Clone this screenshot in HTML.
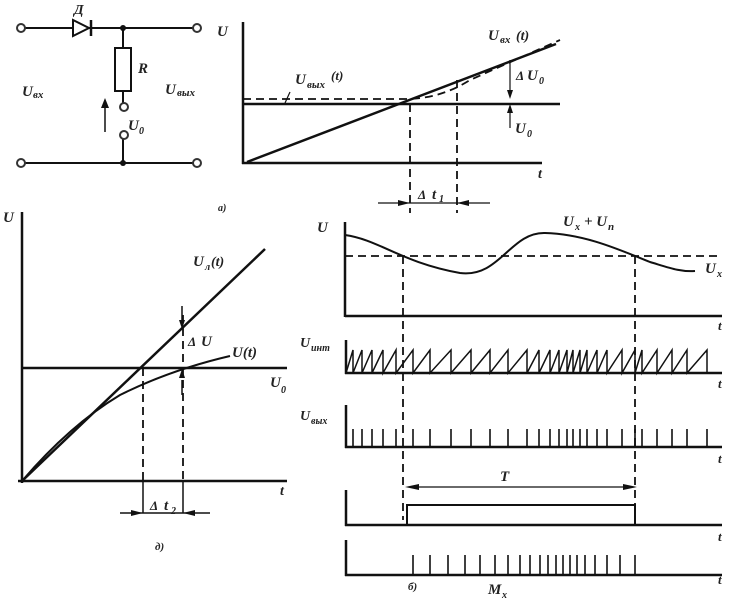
<!DOCTYPE html>
<html><head><meta charset="utf-8"><style>
html,body{margin:0;padding:0;background:#fff;}
svg{display:block;}
text{font-family:"Liberation Serif",serif;font-style:italic;font-weight:bold;fill:#222;}
</style></head><body>
<svg width="737" height="600" viewBox="0 0 737 600" xmlns="http://www.w3.org/2000/svg">
<g stroke="#111" fill="none" stroke-width="2">
<!-- circuit -->
<line x1="24" y1="28" x2="193" y2="28"/>
<line x1="24" y1="163" x2="193" y2="163"/>
<polygon points="73,20 73,36 89,28" fill="#fff"/>
<line x1="91" y1="20" x2="91" y2="36" stroke-width="2.5"/>
<line x1="123" y1="28" x2="123" y2="48"/>
<rect x="115" y="48" width="16" height="43" fill="#fff"/>
<line x1="123" y1="91" x2="123" y2="103"/>
<line x1="123" y1="139" x2="123" y2="163"/>
<line x1="105" y1="132" x2="105" y2="102" stroke-width="1.5"/>
</g>
<polygon points="105,98 101,108 109,108" fill="#111"/>
<g stroke="#333" fill="#fff" stroke-width="2">
<circle cx="21" cy="28" r="4"/><circle cx="197" cy="28" r="4"/>
<circle cx="21" cy="163" r="4"/><circle cx="197" cy="163" r="4"/>
<circle cx="124" cy="107" r="4"/><circle cx="124" cy="135" r="4"/>
</g>
<circle cx="123" cy="28" r="3" fill="#111"/><circle cx="123" cy="163" r="3" fill="#111"/>
<text x="74" y="14" font-size="14">Д</text>
<text x="138" y="73" font-size="15">R</text>
<text x="22" y="96" font-size="15">U</text><text x="33" y="98" font-size="11">вх</text>
<text x="165" y="94" font-size="15">U</text><text x="177" y="96" font-size="11">вых</text>
<text x="128" y="130" font-size="15">U</text><text x="139" y="134" font-size="10">0</text>
<text x="217" y="36" font-size="15" font-weight="normal">U</text>

<!-- graph a -->
<g stroke="#111" fill="none" stroke-width="2.5">
<line x1="243" y1="22" x2="243" y2="164"/>
<line x1="242" y1="163" x2="542" y2="163"/>
<line x1="243" y1="104" x2="560" y2="104"/>
<line x1="247" y1="162" x2="556" y2="44"/>
</g>
<g stroke="#111" fill="none" stroke-width="1.8" stroke-dasharray="8,5">
<path d="M243,99 L405,99 Q440,99 470,80 L560,40"/>
<line x1="410" y1="104" x2="410" y2="213"/>
<line x1="457" y1="80" x2="457" y2="213"/>
</g>
<g stroke="#111" stroke-width="1.2">
<line x1="378" y1="203" x2="490" y2="203"/>
<line x1="285" y1="103" x2="290" y2="92"/>
<line x1="510" y1="60" x2="510" y2="95"/><line x1="510" y1="110" x2="510" y2="128"/>
</g>
<polygon points="410,203 398,200 398,206" fill="#111"/>
<polygon points="457,203 469,200 469,206" fill="#111"/>
<polygon points="510,99 507,90 513,90" fill="#111"/>
<polygon points="510,104 507,113 513,113" fill="#111"/>
<text x="488" y="40" font-size="15">U</text><text x="500" y="43" font-size="11">вх</text><text x="516" y="40" font-size="14">(t)</text>
<text x="295" y="84" font-size="15">U</text><text x="307" y="88" font-size="11">вых</text><text x="331" y="80" font-size="13">(t)</text>
<text x="516" y="80" font-size="13" font-weight="normal">Δ</text><text x="527" y="80" font-size="15">U</text><text x="539" y="84" font-size="10">0</text>
<text x="515" y="133" font-size="15">U</text><text x="527" y="137" font-size="10">0</text>
<text x="538" y="178" font-size="14">t</text>
<text x="418" y="199" font-size="13" font-weight="normal">Δ</text><text x="432" y="199" font-size="15">t</text><text x="439" y="202" font-size="10">1</text>
<text x="218" y="211" font-size="10">а)</text>

<!-- graph д -->
<g stroke="#111" fill="none" stroke-width="2.5">
<line x1="22" y1="212" x2="22" y2="483"/>
<line x1="18" y1="481" x2="287" y2="481"/>
<line x1="22" y1="368" x2="287" y2="368"/>
<line x1="22" y1="481" x2="265" y2="249"/>
<path d="M22,481 Q70,425 120,395 Q170,370 230,356" stroke-width="2"/>
</g>
<g stroke="#111" fill="none" stroke-width="1.8" stroke-dasharray="8,5">
<line x1="143" y1="368" x2="143" y2="480"/>
<line x1="183" y1="315" x2="183" y2="480"/>
</g>
<g stroke="#111" stroke-width="1.5">
<line x1="143" y1="481" x2="143" y2="513"/><line x1="183" y1="481" x2="183" y2="513"/>
<line x1="120" y1="513" x2="210" y2="513"/>
<line x1="182" y1="306" x2="182" y2="325"/><line x1="182" y1="380" x2="182" y2="395"/>
</g>
<polygon points="143,513 131,510 131,516" fill="#111"/>
<polygon points="183,513 195,510 195,516" fill="#111"/>
<polygon points="182,329 179,320 185,320" fill="#111"/>
<polygon points="182,369 179,378 185,378" fill="#111"/>
<text x="3" y="222" font-size="15" font-weight="normal">U</text>
<text x="193" y="266" font-size="15">U</text><text x="205" y="270" font-size="10">л</text><text x="211" y="266" font-size="14">(t)</text>
<text x="188" y="346" font-size="13" font-weight="normal">Δ</text><text x="201" y="346" font-size="15" font-weight="normal">U</text>
<text x="232" y="357" font-size="15">U(t)</text>
<text x="270" y="387" font-size="15">U</text><text x="281" y="393" font-size="10">0</text>
<text x="280" y="495" font-size="14">t</text>
<text x="150" y="510" font-size="13" font-weight="normal">Δ</text><text x="164" y="510" font-size="15">t</text><text x="171" y="514" font-size="10">2</text>
<text x="155" y="550" font-size="11">д)</text>

<!-- graph б -->
<g stroke="#111" fill="none" stroke-width="2.5">
<line x1="345" y1="222" x2="345" y2="317"/>
<line x1="345" y1="316" x2="722" y2="316"/>
<line x1="346" y1="340" x2="346" y2="374"/>
<line x1="345" y1="373" x2="722" y2="373"/>
<line x1="346" y1="405" x2="346" y2="448"/>
<line x1="345" y1="447" x2="722" y2="447"/>
<line x1="346" y1="490" x2="346" y2="526"/>
<line x1="345" y1="525" x2="722" y2="525"/>
<line x1="346" y1="540" x2="346" y2="576"/>
<line x1="345" y1="575" x2="722" y2="575"/>
<path d="M345,235 C380,240 400,262 460,273 C500,278 510,232 545,233 C585,234 620,250 650,262 C670,268 680,272 695,271" stroke-width="2"/>
<path d="M346,525 L407,525 L407,505 L635,505 L635,525" stroke-width="2"/>
</g>
<g stroke="#111" fill="none" stroke-width="1.8" stroke-dasharray="8,5">
<line x1="345" y1="256" x2="722" y2="256"/>
<line x1="403" y1="256" x2="403" y2="520"/>
<line x1="635" y1="256" x2="635" y2="520"/>
</g>
<path stroke="#111" fill="none" stroke-width="1.5" d="M346,373 L353,350 L353,373 L362,350 L362,373 L372,350 L372,373 L383,350 L383,373 L396,350 L396,373 L413,350 L413,373 L430,350 L430,373 L451,350 L451,373 L471,350 L471,373 L490,350 L490,373 L508,350 L508,373 L527,350 L527,373 L539,350 L539,373 L550,350 L550,373 L559,350 L559,373 L567,350 L567,373 L573,350 L573,373 L580,350 L580,373 L587,350 L587,373 L597,350 L597,373 L607,350 L607,373 L622,350 L622,373 L635,350 L635,373 L642,350 L642,373 L657,350 L657,373 L672,350 L672,373 L687,350 L687,373 L707,350 L707,373"/>
<path stroke="#111" fill="none" stroke-width="1.6" d="M353,447V429M362,447V429M372,447V429M383,447V429M396,447V429M413,447V429M430,447V429M451,447V429M471,447V429M490,447V429M508,447V429M527,447V429M539,447V429M550,447V429M559,447V429M567,447V429M573,447V429M580,447V429M587,447V429M597,447V429M607,447V429M622,447V429M635,447V429M642,447V429M657,447V429M672,447V429M687,447V429M707,447V429"/>
<path stroke="#111" fill="none" stroke-width="1.6" d="M413,575V555M430,575V555M448,575V555M465,575V555M480,575V555M495,575V555M508,575V555M520,575V555M530,575V555M540,575V555M548,575V555M556,575V555M563,575V555M570,575V555M577,575V555M585,575V555M595,575V555M607,575V555M620,575V555M635,575V555"/>
<g stroke="#111" stroke-width="1.2"><line x1="410" y1="487" x2="630" y2="487"/></g>
<polygon points="405,487 419,484 419,490" fill="#111"/>
<polygon points="637,487 623,484 623,490" fill="#111"/>
<text x="317" y="232" font-size="15" font-weight="normal">U</text>
<text x="563" y="226" font-size="15">U</text><text x="575" y="230" font-size="10">x</text><text x="584" y="226" font-size="15">+ U</text><text x="608" y="230" font-size="11">п</text>
<text x="705" y="273" font-size="15">U</text><text x="717" y="277" font-size="10">x</text>
<text x="300" y="347" font-size="14">U</text><text x="311" y="351" font-size="10">инт</text>
<text x="300" y="420" font-size="14">U</text><text x="311" y="424" font-size="10">вых</text>
<text x="718" y="330" font-size="13">t</text><text x="718" y="388" font-size="13">t</text>
<text x="718" y="463" font-size="13">t</text><text x="718" y="541" font-size="13">t</text>
<text x="718" y="584" font-size="13">t</text>
<text x="500" y="481" font-size="15" font-weight="normal">T</text>
<text x="408" y="590" font-size="11">б)</text>
<text x="488" y="594" font-size="15">M</text><text x="502" y="598" font-size="10">x</text>
</svg>
</body></html>
